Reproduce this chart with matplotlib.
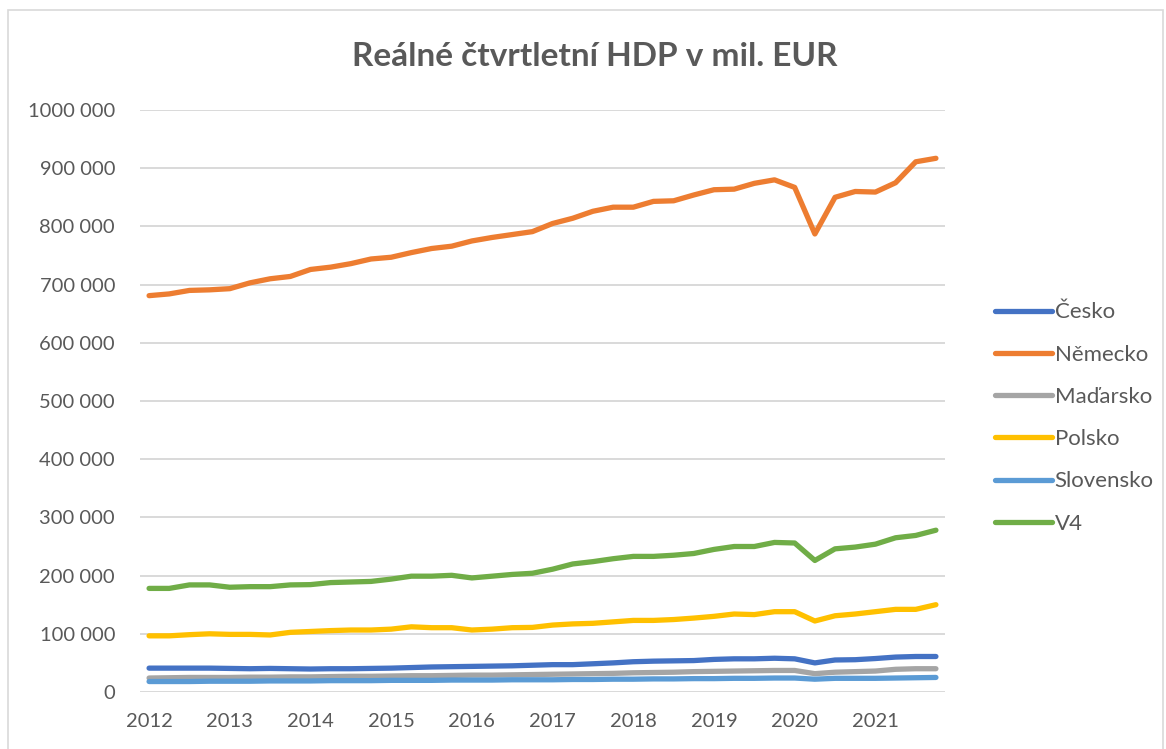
import matplotlib.pyplot as plt
from matplotlib.patches import Rectangle

plt.rcParams['font.family'] = ['Lato', 'DejaVu Sans']

# quarterly data 2012Q1 .. 2021Q4, in thousands of mil. EUR
years = ['2012', '2013', '2014', '2015', '2016', '2017', '2018', '2019', '2020', '2021']
quarters = list(range(40))

cesko = [41, 41, 41, 41, 40.5, 40, 40.5, 40, 39.5, 40, 40, 40.5, 41, 42, 43, 43.5, 44, 44.5, 45, 46,
         47, 47, 48.5, 50, 52, 53, 53.5, 54, 56, 57, 57, 58, 57, 50, 55, 55.5, 57.5, 60, 61, 61]
nemecko = [681, 684, 690, 691, 693, 703, 710, 714, 726, 730, 736, 744, 747, 755, 762, 766, 775, 781, 786, 791,
           805, 814, 826, 833, 833, 843, 844, 854, 863, 864, 874, 880, 867, 787, 850, 860, 859, 875, 911, 917]
madarsko = [24, 24.5, 25, 25, 25, 25.5, 25.5, 26, 26, 26.5, 27, 27, 27.5, 28, 28, 28.5, 29, 29, 29.5, 30,
            30.5, 31, 31.5, 32, 33, 33.5, 34, 35, 35.5, 36, 36.5, 37, 37, 31.5, 34, 35, 36, 39, 40, 40]
polsko = [96.5, 96.5, 98.5, 100, 99, 99, 98, 102.5, 104, 105.5, 106.5, 106.5, 108, 112, 110.5, 110.5, 106.5, 108, 110.5, 111,
          115, 117, 118, 120.5, 123, 123, 124.5, 127, 130, 134, 133, 138, 138, 122, 131, 134, 138, 142, 142, 150]
slovensko = [18, 18, 18, 18.5, 18.5, 18.5, 19, 19, 19, 19.5, 19.5, 19.5, 20, 20, 20, 20.5, 20.5, 20.5, 21, 21,
             21, 21.5, 21.5, 22, 22, 22.5, 22.5, 23, 23, 23.5, 23.5, 24, 24, 22, 23.5, 23.5, 23.5, 24, 24.5, 25]
v4 = [178, 178, 184, 184, 180, 181, 181, 184, 184.5, 188, 189, 190, 194, 199, 199, 200.5, 196, 199, 202, 204,
      211, 220, 224, 229, 233, 233, 235, 238, 245, 250, 250, 257, 256, 226, 246, 249, 254, 265, 269, 278]

series = [
    ('Česko', cesko, '#4472C4'),
    ('Německo', nemecko, '#ED7D31'),
    ('Maďarsko', madarsko, '#A5A5A5'),
    ('Polsko', polsko, '#FFC000'),
    ('Slovensko', slovensko, '#5B9BD5'),
    ('V4', v4, '#70AD47'),
]

ytick_vals = [0, 100000, 200000, 300000, 400000, 500000, 600000, 700000, 800000, 900000, 1000000]
ytick_labels = ['0', '100 000', '200 000', '300 000', '400 000', '500 000', '600 000',
                '700 000', '800 000', '900 000', '1000 000']

text_col = '#595959'
grid_col = '#D9D9D9'

fig = plt.figure(figsize=(11.66, 7.49), dpi=100)
ax = fig.add_axes([140 / 1166, 1 - 692 / 749, 805 / 1166, 582 / 749])

for name, vals, col in series:
    ax.plot(quarters, [v * 1000 for v in vals], color=col, lw=3.8, label=name,
            solid_capstyle='round', solid_joinstyle='round')

ax.set_xlim(-0.45, 39.45)
ax.set_ylim(0, 1000000)
ax.set_yticks(ytick_vals)
ax.set_yticklabels(ytick_labels)
ax.set_xticks(quarters[::4])
ax.set_xticklabels(years)
ax.tick_params(axis='both', length=0, labelsize=14.5, labelcolor=text_col)
ax.tick_params(axis='y', pad=18)
ax.tick_params(axis='x', pad=15)
ax.grid(axis='y', color=grid_col, lw=1.4)
ax.set_axisbelow(True)
for s in ax.spines.values():
    s.set_visible(False)

fig.text(595 / 1166, 1 - 57 / 749, 'Reálné čtvrtletní HDP v mil. EUR', ha='center', va='center',
         fontsize=24, fontweight='bold', color=text_col)

leg = ax.legend(loc='center left', bbox_to_anchor=(975 / 1166, 1 - 418 / 749), bbox_transform=fig.transFigure,
                frameon=False, fontsize=16, labelspacing=1.0, handlelength=2.55, handletextpad=0.13)
for t in leg.get_texts():
    t.set_color(text_col)

fig.patches.append(Rectangle((8 / 1166, -0.1), 1155 / 1166, 1.1 - 10 / 749, transform=fig.transFigure,
                             fill=False, edgecolor=grid_col, lw=1.2))

fig.savefig('out.png', dpi=100)
